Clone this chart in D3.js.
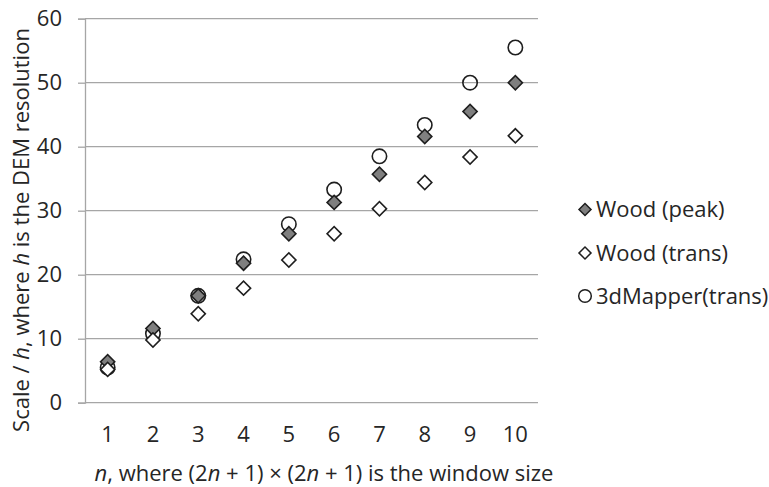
<!DOCTYPE html>
<html><head><meta charset="utf-8">
<script src="https://cdn.jsdelivr.net/npm/d3@7"></script>
<style>
body{margin:0;background:#fff;}
text{font-family:"Open Sans","Noto Sans",sans-serif;fill:#262626;}
</style></head>
<body><svg id="c" width="769" height="487"></svg>
<script>
const categories = [1,2,3,4,5,6,7,8,9,10];
const woodPeak  = [6.4,11.6,16.7,21.8,26.4,31.3,35.7,41.6,45.5,50.0];
const woodTrans = [5.2,9.8,13.9,17.9,22.3,26.4,30.3,34.4,38.4,41.7];
const mapper    = [5.5,10.8,16.7,22.4,27.9,33.3,38.5,43.4,50.0,55.5];
const yTicks = [0,10,20,30,40,50,60];
const seriesNames = ["Wood (peak)","Wood (trans)","3dMapper(trans)"];

const svg = d3.select("#c");
const x = d3.scaleBand().domain(categories).range([85,538]);
const y = d3.scaleLinear().domain([0,60]).range([402.7,18.7]);
const grid = "#a6a6a6";
const FS = "22px";
const txt = "#262626";

svg.append("g").selectAll("line").data(yTicks).join("line")
  .attr("x1",x.range()[0]).attr("x2",x.range()[1])
  .attr("y1",d=>y(d)).attr("y2",d=>y(d))
  .attr("stroke",grid).attr("stroke-width",1.3);

const ya = svg.append("g").attr("transform",`translate(${x.range()[0]},0)`)
  .call(d3.axisLeft(y).tickValues(yTicks).tickSize(7).tickPadding(16));
ya.select(".domain").attr("stroke",grid).attr("stroke-width",1.3);
ya.selectAll(".tick line").attr("stroke",grid).attr("stroke-width",1.3);
ya.selectAll(".tick text").style("font-size",FS).attr("fill",txt);

const xa = svg.append("g").attr("transform",`translate(0,${y(0)})`)
  .call(d3.axisBottom(x).tickSize(0).tickPadding(24));
xa.select(".domain").remove();
xa.selectAll(".tick text").style("font-size",FS).attr("fill",txt);

function diamondPath(s){ return d3.symbol().type(d3.symbolSquare).size(s)(); }
const dPath = diamondPath(100);
const stroke = "#1e1e1e";

function drawDiamonds(vals, fill){
  svg.append("g").selectAll("path").data(vals).join("path")
    .attr("d",dPath)
    .attr("transform",(d,i)=>`translate(${x(categories[i])+x.bandwidth()/2},${y(d)}) rotate(45)`)
    .attr("fill",fill).attr("stroke",stroke).attr("stroke-width",1.6);
}
function drawCircles(vals){
  svg.append("g").selectAll("circle").data(vals).join("circle")
    .attr("cx",(d,i)=>x(categories[i])+x.bandwidth()/2)
    .attr("cy",d=>y(d)).attr("r",7.2)
    .attr("fill","none").attr("stroke",stroke).attr("stroke-width",1.6);
}
drawCircles(mapper);
drawDiamonds(woodPeak,"#7f7f7f");
drawDiamonds(woodTrans,"#fff");

const ly = [209.5,253,296];
seriesNames.forEach((n,i)=>{
  const g = svg.append("g").attr("transform",`translate(585,${ly[i]})`);
  if(i<2){
    g.append("path").attr("d",diamondPath(72)).attr("transform","rotate(45)")
      .attr("fill",i===0?"#7f7f7f":"#fff").attr("stroke",stroke).attr("stroke-width",1.5);
  } else {
    g.append("circle").attr("r",6.3).attr("fill","none").attr("stroke",stroke).attr("stroke-width",1.5);
  }
  g.append("text").attr("x",11).attr("dy","0.35em").style("font-size","22px").text(n);
});

const yt = svg.append("text").attr("transform","translate(21,230) rotate(-90)")
  .attr("text-anchor","middle").attr("dy","0.35em").style("font-size",FS);
yt.append("tspan").text("Scale / ");
yt.append("tspan").attr("font-style","italic").text("h");
yt.append("tspan").text(", where ");
yt.append("tspan").attr("font-style","italic").text("h");
yt.append("tspan").text(" is the DEM resolution");

const xt = svg.append("text").attr("x",324).attr("y",473)
  .attr("text-anchor","middle").attr("dy","0.35em").style("font-size",FS);
xt.append("tspan").attr("font-style","italic").text("n");
xt.append("tspan").text(", where (2");
xt.append("tspan").attr("font-style","italic").text("n");
xt.append("tspan").text(" + 1) × (2");
xt.append("tspan").attr("font-style","italic").text("n");
xt.append("tspan").text(" + 1) is the window size");
</script></body></html>
